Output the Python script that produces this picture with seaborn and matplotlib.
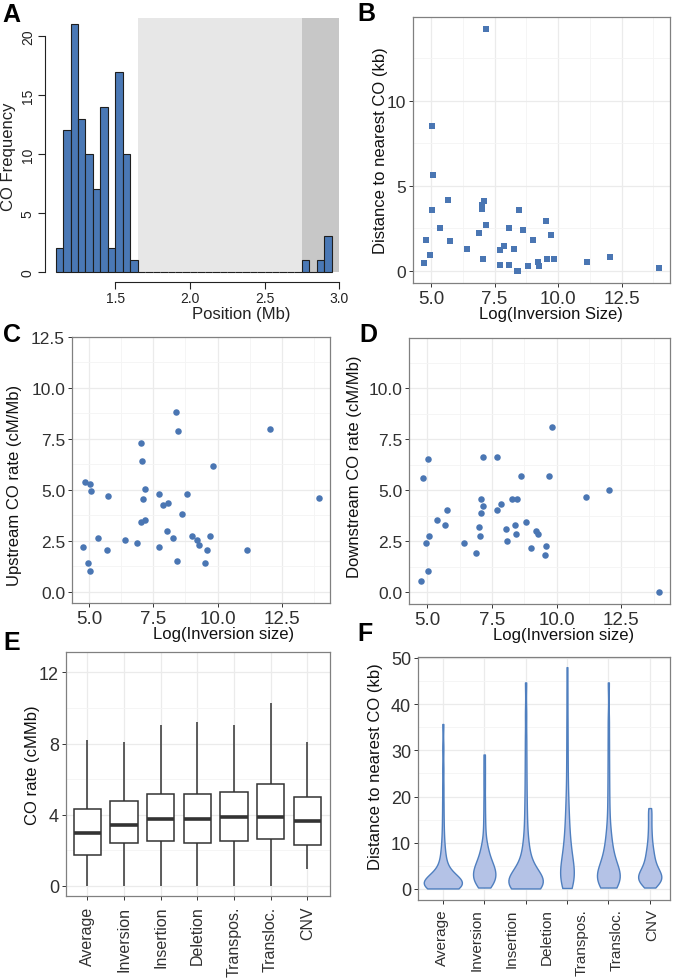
import numpy as np
import pandas as pd
import matplotlib
matplotlib.use("Agg")
import matplotlib.pyplot as plt
from matplotlib.ticker import AutoMinorLocator
import seaborn as sns

# ---------------- data ----------------
# A: CO counts per 0.05 Mb bin
bin_start = 1.10
bin_width = 0.05
left_counts = [2, 12, 21, 13, 10, 7, 14, 2, 17, 10, 1]   # 1.10 - 1.65 Mb
gap_bins = 22                                            # 1.65 - 2.75 Mb, no CO
right_counts = [1, 0, 1, 3]                              # 2.75 - 2.95 Mb
light_region = (1.65, 2.75)
dark_region = (2.75, 3.00)

# B, C, D: one point per inversion
log_size = [4.74, 4.82, 4.96, 5.02, 5.04, 5.07, 5.36, 5.68, 5.74, 6.40,
            6.87, 7.01, 7.02, 7.06, 7.09, 7.17, 7.17, 7.70, 7.70, 7.86,
            8.05, 8.08, 8.26, 8.40, 8.42, 8.47, 8.63, 8.81, 9.01, 9.19,
            9.26, 9.53, 9.57, 9.70, 9.82, 11.14, 12.04, 13.96]
dist_kb = [0.45, 1.85, 0.94, 8.48, 3.58, 5.61, 2.50, 4.17, 1.77, 1.30,
           2.26, 3.62, 3.88, 0.71, 4.11, 14.17, 2.68, 1.22, 0.33, 1.46,
           2.50, 0.33, 1.28, 0.00, 0.00, 3.56, 2.42, 0.30, 1.81, 0.51,
           0.30, 2.91, 0.73, 2.11, 0.71, 0.51, 0.83, 0.16]
up_rate = [2.19, 5.39, 1.40, 1.05, 5.28, 4.93, 2.65, 2.07, 4.70, 2.53,
           2.42, 7.32, 3.44, 6.41, 4.57, 5.05, 3.55, 4.82, 2.19, 4.24,
           2.99, 4.36, 2.65, 8.82, 1.51, 7.89, 3.80, 4.82, 2.76, 2.53,
           2.32, 1.40, 2.07, 2.76, 6.18, 2.07, 8.01, 4.59]
down_rate = [0.56, 5.61, 2.40, 1.02, 6.52, 2.74, 3.53, 3.31, 4.01, 2.40,
             1.94, 3.21, 2.74, 4.57, 3.88, 6.63, 4.23, 6.63, 4.01, 4.34,
             3.09, 2.52, 4.57, 3.31, 2.84, 4.57, 5.71, 3.44, 2.17, 2.98,
             2.84, 1.83, 2.29, 5.71, 8.11, 4.69, 5.03, 0.00]

# E: CO rate summaries per SV type (min, q1, median, q3, max)
sv_types = ["Average", "Inversion", "Insertion", "Deletion",
            "Transpos.", "Transloc.", "CNV"]
rate_min = [0, 0, 0, 0, 0, 0, 0.94]
rate_q1 = [1.71, 2.38, 2.51, 2.38, 2.51, 2.63, 2.27]
rate_med = [2.98, 3.43, 3.75, 3.75, 3.88, 3.88, 3.65]
rate_q3 = [4.32, 4.78, 5.16, 5.16, 5.25, 5.72, 5.01]
rate_max = [8.22, 8.07, 9.04, 9.23, 9.04, 10.26, 8.07]

# F: distance to nearest CO (kb), six groups drawn
dist_g1 = [0.1, 0.2, 0.3, 0.3, 0.4, 0.5, 0.5, 0.6, 0.6, 0.7, 0.7, 0.8, 0.8,
           0.9, 0.9, 1.0, 1.0, 1.0, 1.1, 1.1, 1.2, 1.2, 1.3, 1.3, 1.4, 1.4,
           1.5, 1.6, 1.7, 1.8, 1.9, 2.0, 2.1, 2.2, 2.4, 2.6, 2.8, 3.0, 3.3,
           3.6, 3.9, 4.3, 4.8, 5.3, 5.9, 6.6, 7.4, 8.3,
           9.5, 11.0, 13.0, 15.5, 18.5, 22.0, 26.0, 30.5, 35.7]
dist_g2 = [0.3, 0.5, 0.8, 1.0, 1.2, 1.4, 1.6, 1.8, 2.0, 2.2, 2.4, 2.6, 2.8,
           3.0, 3.2, 3.4, 3.6, 3.8, 4.0, 4.2, 4.4, 4.6, 4.8, 5.0, 5.3, 5.6,
           5.9, 6.2, 6.6, 7.0, 7.5, 8.0, 8.6, 9.3, 10.0,
           11.5, 13.5, 16.0, 19.0, 22.5, 25.8, 29.1]
dist_g3 = [0.1, 0.2, 0.3, 0.4, 0.5, 0.6, 0.6, 0.7, 0.8, 0.9, 0.9, 1.0, 1.1,
           1.2, 1.2, 1.3, 1.4, 1.5, 1.6, 1.7, 1.8, 2.0, 2.1, 2.3, 2.5, 2.7,
           2.9, 3.2, 3.5, 3.8, 4.2, 4.6, 5.1, 5.7, 6.3, 7.0, 7.8, 8.7, 9.7,
           11.0, 12.8, 15.0, 17.5, 20.5, 24.0, 28.0, 32.5, 38.0, 44.7]
dist_g4 = [0.2, 0.4, 0.7, 1.0, 1.3, 1.6, 1.9, 2.2, 2.5, 2.8, 3.1, 3.4, 3.7,
           4.0, 4.3, 4.7, 5.1, 5.5, 6.0, 6.5, 7.0, 7.6, 8.2, 8.9, 9.6, 10.4,
           11.3, 12.3, 13.4, 14.6, 16.0, 17.5, 19.2,
           21.5, 24.5, 28.0, 32.0, 36.5, 42.0, 48.0]
dist_g5 = [0.3, 0.5, 0.8, 1.0, 1.2, 1.4, 1.6, 1.8, 1.9, 2.1, 2.2, 2.4, 2.5,
           2.7, 2.9, 3.1, 3.3, 3.5, 3.8, 4.1, 4.4, 4.8, 5.2, 5.6, 6.1, 6.6,
           7.2, 7.8, 8.5, 9.3, 10.2, 11.2, 12.3,
           14.0, 16.5, 19.5, 23.0, 27.0, 31.5, 36.5, 44.7]
dist_g6 = [0.3, 0.6, 0.9, 1.2, 1.5, 1.7, 1.9, 2.1, 2.3, 2.5, 2.7, 2.9, 3.1,
           3.3, 3.5, 3.8, 4.1, 4.4, 4.7, 5.1, 5.5, 6.0, 6.5, 7.1, 7.7, 8.4,
           9.2, 10.2, 11.4, 12.8, 14.4, 16.0, 17.5]
violin_groups = [dist_g1, dist_g2, dist_g3, dist_g4, dist_g5, dist_g6]

# ---------------- style ----------------
sns.set_theme(style="white")
plt.rcParams["font.family"] = ["Liberation Sans", "DejaVu Sans"]

BAR = "#4a78b5"
DOT = "#4a76b3"
TXT = "#303030"
VFILL = "#b4c2e6"
VEDGE = "#4f7fbf"

W, H = 677, 979
fig = plt.figure(figsize=(W / 100, H / 100), dpi=100)


def add_box(x0, y0, x1, y1):
    return fig.add_axes([x0 / W, 1 - y1 / H, (x1 - x0) / W, (y1 - y0) / H])


def gg_style(ax, xsize=13.5, ysize=12.5):
    ax.set_facecolor("white")
    for s in ax.spines.values():
        s.set_visible(True)
        s.set_color("#808080")
        s.set_linewidth(0.9)
    ax.grid(True, which="major", color="#ebebeb", lw=0.9)
    ax.grid(True, which="minor", color="#f4f4f4", lw=0.6)
    ax.set_axisbelow(True)
    ax.tick_params(which="major", length=3, width=0.7, color="#333333",
                   labelcolor=TXT, pad=2, bottom=True, left=True)
    ax.tick_params(axis="x", labelsize=xsize)
    ax.tick_params(axis="y", labelsize=ysize)
    ax.tick_params(which="minor", length=0)


# ---------------- A: histogram ----------------
axA = add_box(44.6, 15.6, 342.7, 282.6)
counts = left_counts + [0] * gap_bins + right_counts
edges = bin_start + bin_width * np.arange(len(counts) + 1)
hist_df = pd.DataFrame({"pos": edges[:-1] + bin_width / 2, "n": counts})
axA.fill_between(light_region, 0, 21.55, color="#e7e7e7", lw=0, zorder=0)
axA.fill_between(dark_region, 0, 21.55, color="#c7c7c7", lw=0, zorder=0)
sns.histplot(data=hist_df, x="pos", weights="n", bins=list(edges), color=BAR,
             alpha=1, edgecolor="#1e1e1e", linewidth=0.8, ax=axA)
axA.set_xlim(1.026, 3.024)
axA.set_ylim(-0.84, 21.84)
axA.set_facecolor("white")
axA.grid(False)
axA.spines["top"].set_visible(False)
axA.spines["right"].set_visible(False)
for s in ("left", "bottom"):
    axA.spines[s].set_color("#222222")
    axA.spines[s].set_linewidth(0.8)
axA.spines["left"].set_bounds(0, 20)
axA.spines["bottom"].set_bounds(1.5, 3.0)
axA.set_xticks([1.5, 2.0, 2.5, 3.0])
axA.set_xticklabels(["1.5", "2.0", "2.5", "3.0"])
axA.set_yticks([0, 5, 10, 15, 20])
axA.set_yticklabels(["0", "5", "10", "15", "20"], rotation=90, va="center")
axA.tick_params(length=5, width=0.8, color="#222222", labelsize=10,
                labelcolor="#222222", pad=2, bottom=True, left=True)
axA.set_xlabel("Position (Mb)", fontsize=12, color="#222222", va="center")
axA.set_ylabel("CO Frequency", fontsize=12, color="#222222", va="center")
axA.xaxis.set_label_coords(0.659, -0.121)
axA.yaxis.set_label_coords(-0.12, 0.47)

# ---------------- B: distance scatter ----------------
axB = add_box(413, 18, 670, 284)
sns.scatterplot(x=log_size, y=dist_kb, marker="s", s=16, color=DOT,
                linewidth=0, ax=axB)
axB.set_xlim(4.29, 14.4)
axB.set_ylim(-0.7, 14.9)
axB.set_xticks([5, 7.5, 10, 12.5])
axB.set_xticklabels(["5.0", "7.5", "10.0", "12.5"])
axB.set_yticks([0, 5, 10])
axB.set_yticklabels(["0", "5", "10"])
axB.xaxis.set_minor_locator(AutoMinorLocator(2))
axB.yaxis.set_minor_locator(AutoMinorLocator(2))
gg_style(axB)
axB.set_xlabel("Log(Inversion Size)", fontsize=12, color="#111111", va="center")
axB.set_ylabel("Distance to nearest CO (kb)", fontsize=12, color="#111111", va="center")
axB.xaxis.set_label_coords(0.537, -0.115)
axB.yaxis.set_label_coords(-0.128, 0.5)

# ---------------- C: upstream rate ----------------
axC = add_box(72, 338, 330, 604)
sns.scatterplot(x=log_size, y=up_rate, marker="o", s=22, color=DOT,
                linewidth=0, ax=axC)
axC.set_xlim(4.33, 14.38)
axC.set_ylim(-0.54, 12.5)
axC.set_xticks([5, 7.5, 10, 12.5])
axC.set_xticklabels(["5.0", "7.5", "10.0", "12.5"])
axC.set_yticks([0, 2.5, 5, 7.5, 10, 12.5])
axC.set_yticklabels(["0.0", "2.5", "5.0", "7.5", "10.0", "12.5"])
axC.xaxis.set_minor_locator(AutoMinorLocator(2))
axC.yaxis.set_minor_locator(AutoMinorLocator(2))
gg_style(axC)
axC.set_xlabel("Log(Inversion size)", fontsize=12, color="#111111", va="center")
axC.set_ylabel("Upstream CO rate (cM/Mb)", fontsize=12, color="#111111", va="center")
axC.xaxis.set_label_coords(0.589, -0.115)
axC.yaxis.set_label_coords(-0.221, 0.447)

# ---------------- D: downstream rate ----------------
axD = add_box(409, 339, 670, 605)
sns.scatterplot(x=log_size, y=down_rate, marker="o", s=22, color=DOT,
                linewidth=0, ax=axD)
axD.set_xlim(4.29, 14.38)
axD.set_ylim(-0.58, 12.47)
axD.set_xticks([5, 7.5, 10, 12.5])
axD.set_xticklabels(["5.0", "7.5", "10.0", "12.5"])
axD.set_yticks([0, 2.5, 5, 7.5, 10])
axD.set_yticklabels(["0.0", "2.5", "5.0", "7.5", "10.0"])
axD.xaxis.set_minor_locator(AutoMinorLocator(2))
axD.yaxis.set_minor_locator(AutoMinorLocator(2))
gg_style(axD)
axD.set_xlabel("Log(Inversion size)", fontsize=12, color="#111111", va="center")
axD.set_ylabel("Downstream CO rate (cM/Mb)", fontsize=12, color="#111111", va="center")
axD.xaxis.set_label_coords(0.594, -0.115)
axD.yaxis.set_label_coords(-0.207, 0.519)

# ---------------- E: boxplots ----------------
axE = add_box(66, 653, 330, 897)
box_df = pd.DataFrame({
    "type": np.repeat(sv_types, 5),
    "rate": np.column_stack([rate_min, rate_q1, rate_med, rate_q3, rate_max]).ravel(),
})
sns.boxplot(data=box_df, x="type", y="rate", order=sv_types, whis=(0, 100),
            width=0.75, color="white", linecolor="#333333", linewidth=1.1,
            showcaps=False, fliersize=0, saturation=1,
            medianprops={"linewidth": 2.6}, ax=axE)
axE.set_xlim(-0.58, 6.62)
axE.set_ylim(-0.58, 13.15)
axE.set_yticks([0, 4, 8, 12])
axE.yaxis.set_minor_locator(AutoMinorLocator(2))
axE.set_xticks(range(len(sv_types)))
axE.set_xticklabels(sv_types, rotation=90)
gg_style(axE, xsize=11.5, ysize=13)
axE.tick_params(axis="x", pad=4)
axE.set_xlabel("")
axE.set_ylabel("CO rate (cMMb)", fontsize=12, color="#111111", va="center")
axE.yaxis.set_label_coords(-0.125, 0.541)

# ---------------- F: violins ----------------
axF = add_box(418, 658, 670, 901)
violin_widths = [0.92, 0.54, 0.83, 0.33, 0.55, 0.56]
slots = [f"g{i}" for i in range(len(violin_groups))]
for i, vals in enumerate(violin_groups):
    sns.violinplot(x=[slots[i]] * len(vals), y=vals, order=slots,
                   width=violin_widths[i], cut=0, inner=None, bw_adjust=0.5,
                   density_norm="width", color=VFILL, linecolor=VEDGE,
                   linewidth=1.0, saturation=1, ax=axF)
axF.set_xlim(-0.6, 5.49)
axF.set_ylim(-2.4, 50.2)
axF.set_yticks([0, 10, 20, 30, 40, 50])
axF.yaxis.set_minor_locator(AutoMinorLocator(2))
axF.set_xticks(range(len(violin_groups)))
axF.set_xticklabels([""] * len(violin_groups))
# the seven labels sit on their own evenly spread positions
axF.set_xticks(np.linspace(-0.02, 5.05, len(sv_types)), minor=True)
axF.set_xticklabels(sv_types, minor=True, rotation=90)
gg_style(axF, xsize=11, ysize=13)
axF.grid(False, axis="x", which="minor")
axF.tick_params(axis="x", which="minor", length=0, labelsize=11,
                labelcolor=TXT, pad=6)
axF.set_xlabel("")
axF.set_ylabel("Distance to nearest CO (kb)", fontsize=12, color="#111111", va="center")
axF.yaxis.set_label_coords(-0.167, 0.551)

# ---------------- panel letters ----------------
for letter, (px, py) in {"A": (11, 15), "B": (366, 14), "C": (12, 335),
                         "D": (368, 335), "E": (12, 643), "F": (365, 634)}.items():
    fig.text(px / W, 1 - py / H, letter, fontsize=18, fontweight="bold",
             ha="center", va="center", color="black")

fig.savefig("out.png", dpi=100)
